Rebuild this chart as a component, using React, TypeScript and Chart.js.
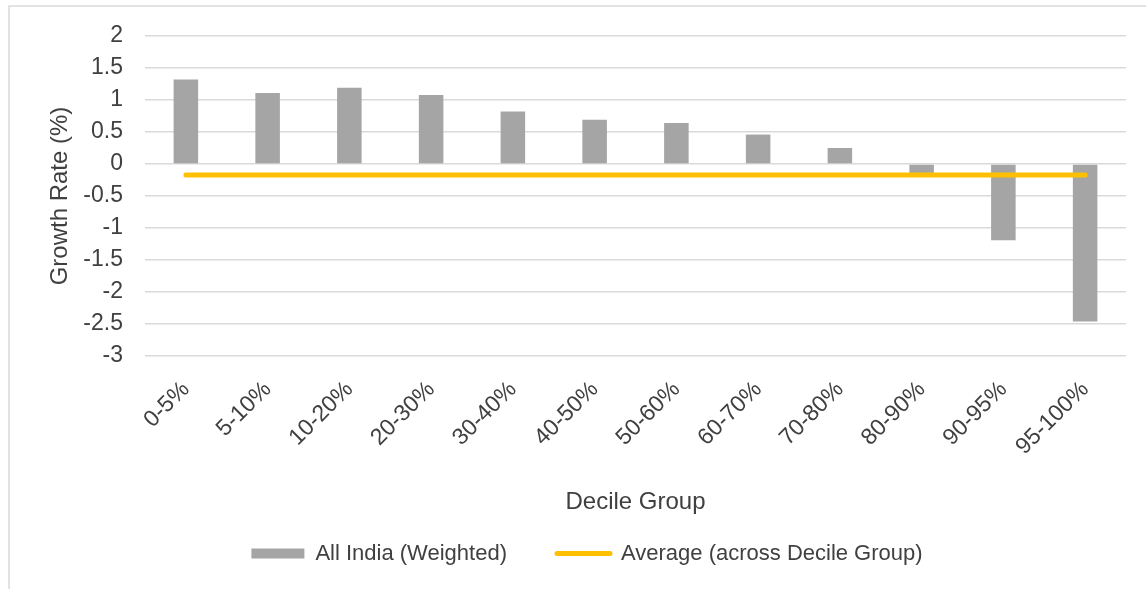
import React, { useEffect, useRef } from "react";
import { Chart, registerables } from "chart.js";

Chart.register(...registerables);

const categories = ["0-5%", "5-10%", "10-20%", "20-30%", "30-40%", "40-50%", "50-60%", "60-70%", "70-80%", "80-90%", "90-95%", "95-100%"];
const allIndiaValues = [1.32, 1.11, 1.19, 1.08, 0.82, 0.69, 0.64, 0.46, 0.25, -0.15, -1.19, -2.46];
const averageValues = [-0.17, -0.17, -0.17, -0.17, -0.17, -0.17, -0.17, -0.17, -0.17, -0.17, -0.17, -0.17];
const seriesNames = ["All India (Weighted)", "Average (across Decile Group)"];
const yTitle = "Growth Rate (%)";
const xTitle = "Decile Group";

const BAR = "#A5A5A5";
const LINE = "#FFC000";
const TEXT = "#404040";
const GRID = "#D9D9D9";
const FONT = "'Liberation Sans', Arial, sans-serif";

const framePlugin = {
  id: "frame",
  beforeDraw(chart: any) {
    const ctx = chart.ctx;
    ctx.save();
    ctx.strokeStyle = GRID;
    ctx.lineWidth = 1.5;
    ctx.beginPath();
    ctx.moveTo(9, chart.height);
    ctx.lineTo(9, 6);
    ctx.lineTo(chart.width, 6);
    ctx.stroke();
    ctx.restore();
  },
};

export default function App() {
  const ref = useRef<HTMLCanvasElement | null>(null);
  useEffect(() => {
    if (!ref.current) return;
    const chart = new Chart(ref.current, {
      type: "bar",
      data: {
        labels: categories,
        datasets: [
          {
            type: "line",
            label: seriesNames[1],
            data: averageValues,
            borderColor: LINE,
            backgroundColor: LINE,
            borderWidth: 5,
            borderCapStyle: "round",
            pointRadius: 0,
            fill: false,
            order: 0,
          } as any,
          {
            type: "bar",
            label: seriesNames[0],
            data: allIndiaValues,
            backgroundColor: BAR,
            borderWidth: 0,
            categoryPercentage: 1,
            barPercentage: 0.3,
            order: 1,
          } as any,
        ],
      },
      options: {
        responsive: false,
        animation: false,
        devicePixelRatio: 1,
        layout: { padding: { left: 48, right: 20, top: 36, bottom: 14.5 } },
        plugins: {
          tooltip: { enabled: false },
          legend: {
            position: "bottom",
            labels: {
              usePointStyle: true,
              pointStyleWidth: 53,
              boxWidth: 53,
              boxHeight: 10,
              padding: 50,
              color: TEXT,
              font: { family: FONT, size: 22 },
              generateLabels: () => [
                { text: seriesNames[0], fillStyle: BAR, strokeStyle: BAR, lineWidth: 0, pointStyle: "rect", datasetIndex: 1, hidden: false, fontColor: TEXT } as any,
                { text: seriesNames[1], fillStyle: LINE, strokeStyle: LINE, lineWidth: 5, lineCap: "round", pointStyle: "line", datasetIndex: 0, hidden: false, fontColor: TEXT } as any,
              ],
            },
          },
        },
        scales: {
          x: {
            grid: { display: false },
            border: { display: false },
            ticks: {
              color: TEXT,
              font: { family: FONT, size: 23 },
              minRotation: 45,
              maxRotation: 45,
              padding: 12,
              autoSkip: false,
            },
            title: {
              display: true,
              text: xTitle,
              color: TEXT,
              font: { family: FONT, size: 24, lineHeight: 1 },
              padding: { top: 0, bottom: -22 },
            },
            afterFit(scale: any) {
              scale.height = 136.5;
            },
          },
          y: {
            min: -3,
            max: 2,
            grid: { color: GRID, lineWidth: 1.5, drawTicks: false },
            border: { display: false },
            ticks: {
              stepSize: 0.5,
              color: TEXT,
              padding: 22,
              font: { family: FONT, size: 23 },
              callback: (v: any) => String(Math.round(Number(v) * 10) / 10),
            },
            title: {
              display: true,
              text: yTitle,
              color: TEXT,
              font: { family: FONT, size: 24, lineHeight: 1 },
              padding: { top: 0, bottom: 0 },
            },
            afterFit(scale: any) {
              scale.width = 97;
            },
          },
        },
      },
      plugins: [framePlugin],
    });
    return () => chart.destroy();
  }, []);
  return (
    <div style={{ position: "fixed", left: 0, top: 0, width: 1146, height: 589, background: "#fff" }}>
      <canvas ref={ref} width={1146} height={589} style={{ display: "block" }} />
    </div>
  );
}
